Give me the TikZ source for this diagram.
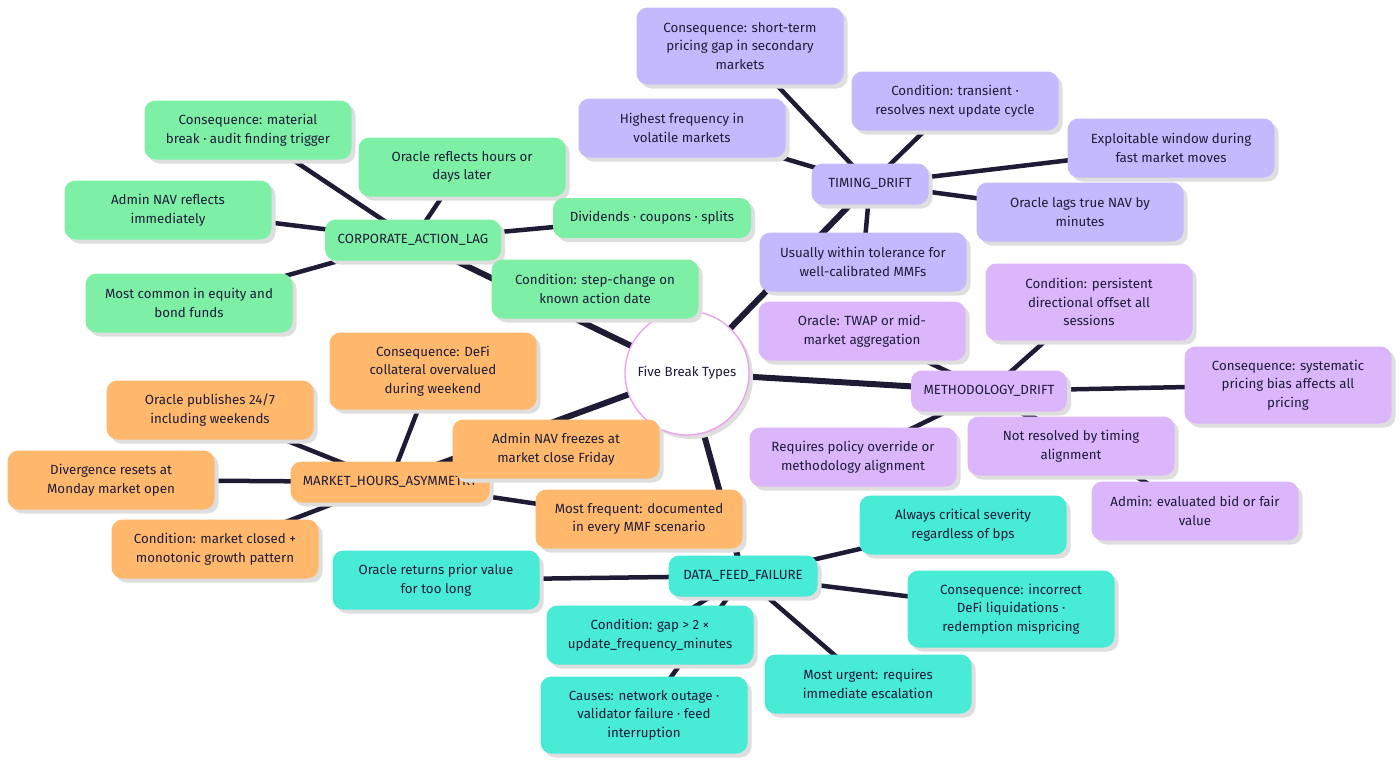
\documentclass[tikz,border=0pt]{standalone}
\usepackage{fontspec}
\setmainfont{Fira Sans}
\usetikzlibrary{shadows,backgrounds}
\definecolor{ink}{HTML}{1E1C3A}
\definecolor{edgec}{HTML}{1E1B35}
\definecolor{cac}{HTML}{7DF0A6}
\definecolor{tdc}{HTML}{C4B9FC}
\definecolor{mdc}{HTML}{DCB6FB}
\definecolor{mhc}{HTML}{FFB86C}
\definecolor{dfc}{HTML}{47EBD6}
\definecolor{pinkb}{HTML}{EE9EF0}
\tikzset{
  shad/.style={general shadow={fill=black!13, shadow xshift=4pt, shadow yshift=-4pt}},
  box/.style={shad, rounded corners=11pt, align=center, text=ink,
    font=\fontsize{13.3}{18.5}\selectfont, inner xsep=8pt, inner ysep=0pt},
  leaf/.style={box, minimum width=207pt, minimum height=59pt},
  tri/.style={leaf, minimum height=77pt},
  branch/.style={box, minimum height=41pt},
  trunk/.style={draw=edgec, line width=6pt},
  twig/.style={draw=edgec, line width=4.5pt},
}
\begin{document}
\begin{tikzpicture}[x=1pt,y=-1pt]
\useasboundingbox (0,0) rectangle (1400,763);

% centre
\node[shad, circle, draw=pinkb, line width=1.3pt, fill=white, minimum size=124pt,
  text=ink, font=\fontsize{13.3}{15}\selectfont] (c) at (687,373) {Five Break Types};

% branches
\node[branch, fill=tdc, minimum width=117pt] (td) at (870,184) {TIMING\_DRIFT};
\node[branch, fill=mdc, minimum width=156pt] (md) at (989,391) {METHODOLOGY\_DRIFT};
\node[branch, fill=dfc, minimum width=149pt] (df) at (743,576) {DATA\_FEED\_FAILURE};
\node[branch, fill=mhc, minimum width=199pt] (mh) at (390,482) {MARKET\_HOURS\_ASYMMETRY};
\node[branch, fill=cac, minimum width=176pt] (ca) at (413,240) {CORPORATE\_ACTION\_LAG};

% TIMING_DRIFT children
\node[tri, fill=tdc] (t1) at (740,46) {Consequence: short-term\\pricing gap in secondary\\markets};
\node[leaf, fill=tdc] (t2) at (955,101) {Condition: transient ·\\resolves next update cycle};
\node[leaf, fill=tdc] (t3) at (682,128) {Highest frequency in\\volatile markets};
\node[leaf, fill=tdc] (t4) at (1171,148) {Exploitable window during\\fast market moves};
\node[leaf, fill=tdc] (t5) at (1080,212) {Oracle lags true NAV by\\minutes};
\node[leaf, fill=tdc] (t6) at (863,262) {Usually within tolerance for\\well-calibrated MMFs};

% METHODOLOGY_DRIFT children
\node[tri, fill=mdc] (m1) at (1089,302) {Condition: persistent\\directional offset all\\sessions};
\node[leaf, fill=mdc] (m2) at (862,331) {Oracle: TWAP or mid-\\market aggregation};
\node[tri, fill=mdc] (m3) at (1288,385) {Consequence: systematic\\pricing bias affects all\\pricing};
\node[leaf, fill=mdc] (m4) at (853,457) {Requires policy override or\\methodology alignment};
\node[leaf, fill=mdc] (m5) at (1071,446) {Not resolved by timing\\alignment};
\node[leaf, fill=mdc] (m6) at (1195,511) {Admin: evaluated bid or fair\\value};

% DATA_FEED_FAILURE children
\node[leaf, fill=dfc] (d1) at (963,525) {Always critical severity\\regardless of bps};
\node[leaf, fill=dfc] (d2) at (436,580) {Oracle returns prior value\\for too long};
\node[tri, fill=dfc] (d3) at (1011,609) {Consequence: incorrect\\DeFi liquidations ·\\redemption mispricing};
\node[leaf, fill=dfc] (d4) at (650,635) {Condition: gap > 2 ×\\update\_frequency\_minutes};
\node[leaf, fill=dfc] (d5) at (868,684) {Most urgent: requires\\immediate escalation};
\node[tri, fill=dfc] (d6) at (644,715) {Causes: network outage ·\\validator failure · feed\\interruption};

% MARKET_HOURS_ASYMMETRY children
\node[tri, fill=mhc] (h1) at (433,371) {Consequence: DeFi\\collateral overvalued\\during weekend};
\node[leaf, fill=mhc] (h2) at (210,410) {Oracle publishes 24/7\\including weekends};
\node[leaf, fill=mhc] (h3) at (556,449) {Admin NAV freezes at\\market close Friday};
\node[leaf, fill=mhc] (h4) at (111,480) {Divergence resets at\\Monday market open};
\node[leaf, fill=mhc] (h5) at (639,519) {Most frequent: documented\\in every MMF scenario};
\node[leaf, fill=mhc] (h6) at (215,549) {Condition: market closed +\\monotonic growth pattern};

% CORPORATE_ACTION_LAG children
\node[leaf, fill=cac] (a1) at (248,130) {Consequence: material\\break · audit finding trigger};
\node[leaf, fill=cac] (a2) at (462,167) {Oracle reflects hours or\\days later};
\node[leaf, fill=cac] (a3) at (168,210) {Admin NAV reflects\\immediately};
\node[box, fill=cac, minimum width=198pt, minimum height=40pt] (a4) at (652,218) {Dividends · coupons · splits};
\node[leaf, fill=cac] (a5) at (189,303) {Most common in equity and\\bond funds};
\node[leaf, fill=cac] (a6) at (595,289) {Condition: step-change on\\known action date};

\begin{scope}[on background layer]
  \foreach \b in {td,md,df,mh,ca} \draw[trunk] (c.center) -- (\b.center);
  \foreach \k in {t1,t2,t3,t4,t5,t6} \draw[twig] (td.center) -- (\k.center);
  \foreach \k in {m1,m2,m3,m4,m5,m6} \draw[twig] (md.center) -- (\k.center);
  \foreach \k in {d1,d2,d3,d4,d5,d6} \draw[twig] (df.center) -- (\k.center);
  \foreach \k in {h1,h2,h3,h4,h5,h6} \draw[twig] (mh.center) -- (\k.center);
  \foreach \k in {a1,a2,a3,a4,a5,a6} \draw[twig] (ca.center) -- (\k.center);
\end{scope}
\end{tikzpicture}
\end{document}
